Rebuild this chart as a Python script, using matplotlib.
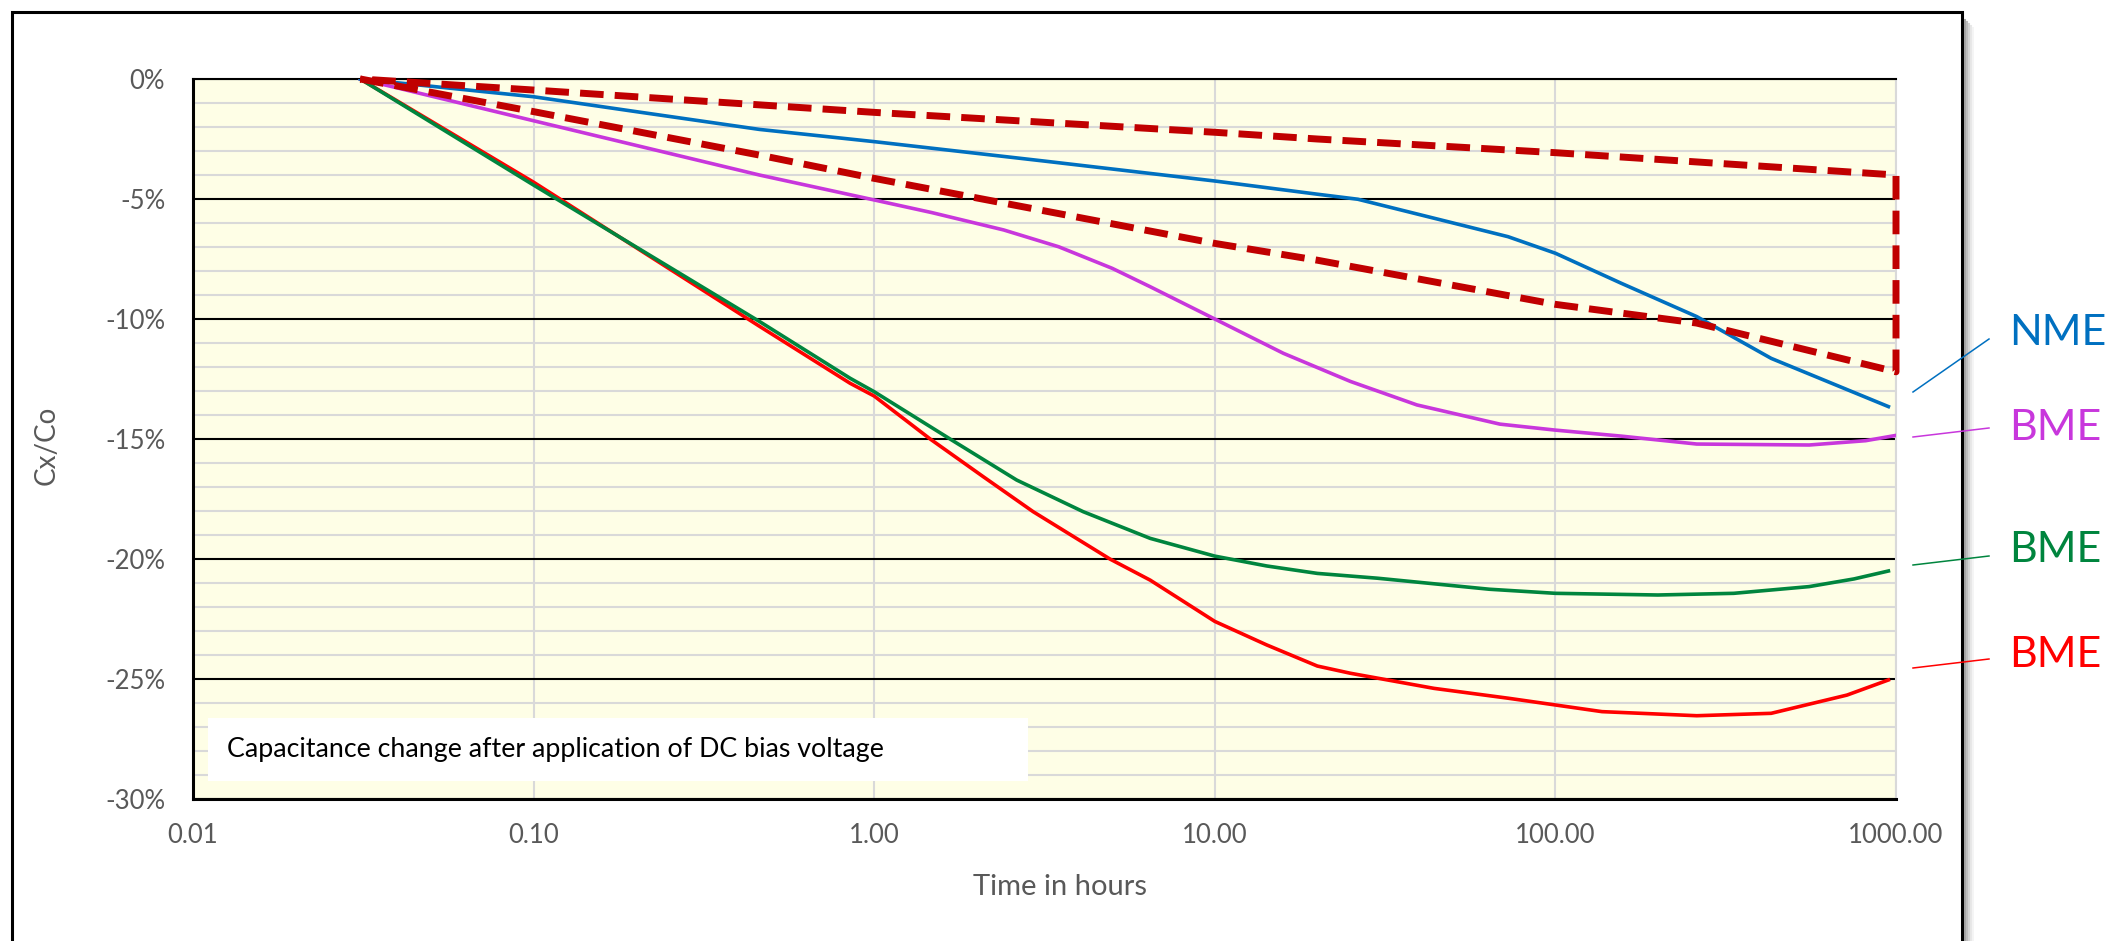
import matplotlib.pyplot as plt
from matplotlib.patches import Rectangle
from matplotlib.lines import Line2D
from matplotlib.ticker import MultipleLocator, NullLocator

plt.rcParams['font.family'] = ['Lato', 'DejaVu Sans']

# time in hours -> capacitance change Cx/Co in %
t_nme = [0.031, 0.1, 0.2, 0.46, 1, 3.16, 10, 20, 26.3, 44, 72.6, 100, 156, 260, 430, 950]
c_nme = [0, -0.74, -1.36, -2.1, -2.61, -3.42, -4.25, -4.8, -5.01, -5.8, -6.57, -7.26,
         -8.51, -9.9, -11.64, -13.65]

t_bme1 = [0.031, 0.1, 0.46, 1, 1.48, 2.4, 3.48, 5, 6.45, 10, 15.9, 25, 39.2, 68.7,
          100, 156, 260, 556, 815, 1000]
c_bme1 = [0, -1.74, -4.0, -5.04, -5.57, -6.29, -6.99, -7.89, -8.65, -10.0, -11.43, -12.6,
          -13.58, -14.38, -14.63, -14.88, -15.21, -15.25, -15.07, -14.85]

t_bme2 = [0.031, 0.1, 0.46, 0.85, 1, 1.67, 2.62, 4.11, 6.46, 10, 14.2, 20, 30, 64, 100,
          200, 334, 556, 753, 950]
c_bme2 = [0, -4.42, -10.1, -12.47, -13.03, -15.0, -16.71, -18.03, -19.14, -19.88,
          -20.29, -20.6, -20.8, -21.26, -21.43, -21.5, -21.43, -21.15, -20.83, -20.5]

t_bme3 = [0.031, 0.1, 0.46, 0.85, 1, 1.46, 2.09, 2.93, 4.92, 6.46, 10, 14.2, 20, 25, 44,
          72.6, 137, 260, 430, 718, 950]
c_bme3 = [0, -4.3, -10.3, -12.68, -13.21, -15.0, -16.57, -18.03, -20.0, -20.88, -22.6,
          -23.58, -24.46, -24.76, -25.39, -25.8, -26.36, -26.53, -26.43, -25.67, -25.04]

# limit envelope (dashed)
t_lim_hi = [0.031, 0.1, 0.43, 1, 10, 20, 100, 1000]
c_lim_hi = [0, -0.46, -1.05, -1.39, -2.22, -2.5, -3.07, -4.0]
t_lim_lo = [0.031, 0.1, 0.46, 1, 10, 20, 100, 260, 1000]
c_lim_lo = [0, -1.36, -3.17, -4.14, -6.85, -7.55, -9.39, -10.17, -12.2]

xticks = [0.01, 0.1, 1, 10, 100, 1000]
xticklabels = ['0.01', '0.10', '1.00', '10.00', '100.00', '1000.00']
yticks = [-30, -25, -20, -15, -10, -5, 0]
yticklabels = ['-30%', '-25%', '-20%', '-15%', '-10%', '-5%', '0%']

labels = ['NME', 'BME', 'BME', 'BME']
colors = ['#0070C0', '#C837DC', '#00853E', '#FF0000']

W, H = 2108, 941
fig = plt.figure(figsize=(W / 100, H / 100), dpi=100)
ax = fig.add_axes([193 / W, 1 - 799 / H, (1896 - 193) / W, (799 - 79) / H])
ax.set_facecolor('#FEFEE6')
ax.set_xscale('log')
ax.set_xlim(0.01, 1000)
ax.set_ylim(-30, 0)

ax.set_xticks(xticks)
ax.set_xticklabels(xticklabels)
ax.xaxis.set_minor_locator(NullLocator())
ax.set_yticks(yticks)
ax.set_yticklabels(yticklabels)
ax.yaxis.set_minor_locator(MultipleLocator(1))
ax.tick_params(which='both', length=0, labelsize=18.5, labelcolor='#595959')
ax.tick_params(axis='x', pad=17)
ax.tick_params(axis='y', pad=20)

ax.set_axisbelow(True)
ax.grid(which='minor', axis='y', color='#D9D9D9', lw=1.5)
ax.grid(which='major', axis='y', color='black', lw=1.5)
ax.grid(which='major', axis='x', color='#D9D9D9', lw=1.5)
for s in ['left', 'bottom']:
    ax.spines[s].set_color('black')
    ax.spines[s].set_linewidth(2.2)
ax.spines['top'].set_color('black')
ax.spines['top'].set_linewidth(1.5)
ax.spines['right'].set_color('#D9D9D9')
ax.spines['right'].set_linewidth(1.5)

ax.plot(t_bme3, c_bme3, color=colors[3], lw=2.6, zorder=3)
ax.plot(t_bme2, c_bme2, color=colors[2], lw=2.6, zorder=3.1)
ax.plot(t_bme1, c_bme1, color=colors[1], lw=2.6, zorder=3.2)
ax.plot(t_nme, c_nme, color=colors[0], lw=2.6, zorder=3.3)

# envelope: lower edge out, vertical at 1000 h, upper edge back
t_env = t_lim_lo + t_lim_hi[::-1]
c_env = c_lim_lo + c_lim_hi[::-1]
ax.plot(t_env, c_env, color='#C00000', lw=5, dashes=(3.4, 1.6),
        dash_capstyle='butt', clip_on=False, zorder=4)

# text box inside plot
ax.add_patch(Rectangle((208 / W, 1 - 781 / H), (1028 - 208) / W, (781 - 718) / H,
                       transform=fig.transFigure, facecolor='white', edgecolor='none', zorder=5))
fig.text(227 / W, 1 - 749 / H, 'Capacitance change after application of DC bias voltage',
         fontsize=19.3, color='black', va='center', ha='left', zorder=6)

fig.text(1060 / W, 1 - 887 / H, 'Time in hours', fontsize=21, color='#595959', ha='center', va='center')
fig.text(47 / W, 1 - 445 / H, 'Cx/Co', fontsize=20, color='#595959', ha='center', va='center', rotation=90)

# chart border with a little shadow on the right
fig.add_artist(Rectangle((12 / W, -0.1), (1962 - 12) / W, 1.1 - 12 / H, transform=fig.transFigure,
                         fill=False, edgecolor='black', lw=2.2))
for i, a in enumerate([0.35, 0.25, 0.16, 0.09, 0.04]):
    x = (1965 + 2 * i) / W
    fig.add_artist(Line2D([x, x], [0, 1 - (20 + 2 * i) / H], transform=fig.transFigure,
                          color='black', alpha=a, lw=1.5))

# series labels with leader lines
lab_y = [333, 428, 550, 655]
lead = [(392, 339), (437, 428), (565, 556), (668, 659)]
for lab, col, y, (y0, y1) in zip(labels, colors, lab_y, lead):
    fig.add_artist(Line2D([1913 / W, 1989 / W], [1 - y0 / H, 1 - y1 / H],
                          transform=fig.transFigure, color=col, lw=1.1))
    fig.text(2009 / W, 1 - y / H, lab, fontsize=31, color=col, ha='left', va='center')

fig.savefig('out.png', dpi=100)
